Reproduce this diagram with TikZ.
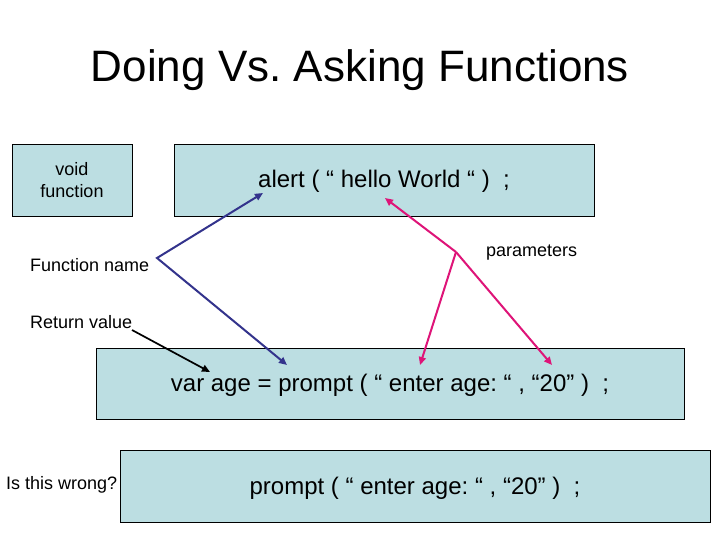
\documentclass[tikz,border=0pt]{standalone}
\usepackage{fontspec}
\setmainfont{Liberation Sans}
\usetikzlibrary{arrows.meta}
\frenchspacing
\definecolor{boxfill}{RGB}{188,222,226}
\definecolor{navyarr}{RGB}{51,51,140}
\definecolor{pinkarr}{RGB}{222,20,120}
\tikzset{
  box/.style={draw=black, line width=0.9pt, fill=boxfill, inner sep=0pt, align=center},
  codetext/.style={font=\fontsize{24pt}{28pt}\selectfont, text height=17pt, text depth=1pt},
  smalltext/.style={font=\fontsize{18pt}{22pt}\selectfont},
  lbl/.style={smalltext, anchor=west, inner sep=0pt},
  navyline/.style={draw=navyarr, line width=2pt, {Triangle[length=8pt,width=7pt]}-{Triangle[length=8pt,width=7pt]}},
  pinkline/.style={draw=pinkarr, line width=2pt, -{Triangle[length=8pt,width=7pt]}},
  blackline/.style={draw=black, line width=1.7pt, -{Triangle[length=8pt,width=7pt]}}
}
\begin{document}
\begin{tikzpicture}[x=1pt, y=-1pt]
\useasboundingbox (0,0) rectangle (720,540);
\fill[white] (0,0) rectangle (720,540);
% title
\node[font=\fontsize{44pt}{50pt}\selectfont, inner sep=0pt] (title) at (360,70) {Doing Vs. Asking Functions};
% boxes
\node[box, smalltext, minimum width=120pt, minimum height=72pt] (voidbox) at (72,180) {void\\function};
\node[box, codetext, minimum width=420pt, minimum height=72pt] (alertbox) at (384,180) {alert ( “ hello World “ )\ \ ;};
\node[box, codetext, minimum width=588pt, minimum height=71pt] (varbox) at (390,383.5) {var age = prompt ( “ enter age: “ , “20” )\ \ ;};
\node[box, codetext, minimum width=590pt, minimum height=72pt] (promptbox) at (415,486) {prompt ( “ enter age: “ , “20” )\ \ ;};
% labels
\node[lbl] (fname) at (30,265) {Function name};
\node[lbl] (retval) at (30,322) {Return value};
\node[lbl] (params) at (486,253) {parameters};
\node[lbl] (wrong) at (6,485) {Is this wrong?};
% connector points
\coordinate (fnA) at (263,193);
\coordinate (fnV) at (157,258);
\coordinate (fnB) at (287,365);
\coordinate (pV) at (456,252);
\coordinate (pA) at (385,198);
\coordinate (pB) at (420,365);
\coordinate (pC) at (552,365);
\coordinate (rS) at (132,330);
\coordinate (rT) at (210,372);
% connectors
\draw[navyline] (fnA) -- (fnV) -- (fnB);
\draw[pinkline] (pV) -- (pA);
\draw[pinkline] (pV) -- (pB);
\draw[pinkline] (pV) -- (pC);
\draw[blackline] (rS) -- (rT);
\end{tikzpicture}
\end{document}
